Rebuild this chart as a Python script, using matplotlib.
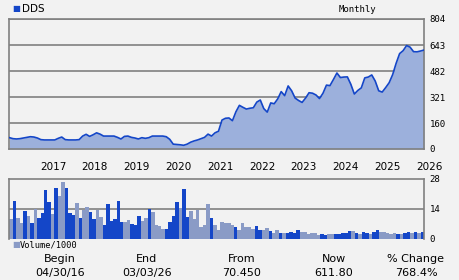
import matplotlib
matplotlib.use('Agg')
import matplotlib.pyplot as plt

# --- # data (monthly, Apr 2016 .. Mar 2026)
price = [70, 64, 62, 64, 68, 72, 76, 74, 68, 58, 56, 56, 56, 56, 66, 74, 58, 56, 56, 56,
         58, 80, 91, 78, 88, 100, 92, 80, 80, 80, 80, 72, 62, 78, 80, 72, 68, 62, 70, 66,
         70, 80, 80, 80, 80, 76, 60, 30, 28, 26, 23, 30, 42, 50, 56, 64, 72, 92, 80, 100,
         110, 179, 190, 192, 175, 230, 270, 258, 247, 252, 255, 290, 303, 250, 228, 285, 280, 310, 355, 330,
         390, 360, 315, 300, 288, 315, 348, 345, 334, 312, 345, 395, 392, 430, 470, 442, 445, 446, 400, 340,
         362, 378, 440, 445, 458, 420, 360, 352, 380, 410, 460, 530, 590, 608, 640, 630, 602, 601, 606, 612]

volume = [9.3, 17.7, 9.8, 7.6, 13.2, 10.7, 7.5, 14.2, 9.8, 12.3, 22.9, 17.4, 11.7, 23.8, 20.1, 26.6,
          23.8, 12.3, 11.2, 16.8, 9.8, 13.5, 14.9, 12.7, 9.3, 13.5, 10.3, 6.5, 16.3, 8.4, 9.3, 17.7,
          8.1, 8.1, 8.9, 7.0, 6.5, 10.7, 8.4, 9.8, 14.0, 12.6, 6.5, 6.1, 4.7, 4.7, 7.9, 10.7,
          17.3, 14.5, 23.3, 10.3, 13.1, 9.3, 13.5, 5.6, 6.5, 16.3, 9.8, 6.5, 4.2, 7.9, 7.5, 7.5,
          6.5, 5.6, 4.2, 7.5, 5.6, 5.6, 4.7, 6.1, 4.2, 4.2, 5.1, 3.7, 2.8, 4.2, 2.8, 2.8,
          2.8, 3.3, 2.8, 4.2, 3.3, 3.3, 2.3, 2.8, 2.8, 1.9, 2.3, 1.9, 2.3, 2.3, 2.3, 2.3,
          2.8, 2.8, 3.7, 3.7, 2.8, 2.3, 3.3, 2.8, 2.3, 3.3, 4.2, 3.3, 3.3, 2.8, 2.3, 2.8,
          2.3, 2.3, 2.8, 3.3, 2.8, 3.3, 2.8, 3.3]

# 1 = dark blue bar, 0 = grey bar
vol_up = [0, 1, 0, 0, 1, 0, 1, 0, 1, 1, 1, 1, 0, 1, 0, 0,
          1, 1, 1, 0, 1, 0, 0, 1, 1, 0, 0, 1, 1, 1, 1, 1,
          1, 0, 0, 1, 1, 1, 0, 0, 1, 0, 0, 0, 0, 1, 1, 1,
          1, 0, 1, 1, 0, 0, 0, 0, 0, 0, 1, 0, 0, 0, 0, 0,
          0, 1, 0, 0, 0, 0, 0, 1, 1, 0, 0, 1, 0, 0, 1, 0,
          1, 1, 1, 1, 0, 0, 0, 0, 0, 0, 1, 1, 0, 0, 1, 1,
          1, 1, 1, 0, 1, 0, 1, 1, 0, 1, 1, 0, 0, 0, 0, 0,
          1, 0, 1, 1, 0, 1, 0, 1]

years = ['2017', '2018', '2019', '2020', '2021', '2022', '2023', '2024', '2025', '2026']
price_ticks = [0, 160, 321, 482, 643, 804]
vol_ticks = [0, 14, 28]

bg = '#f2f2f2'
blue = '#1446c8'
fill = '#9cb0dc'
grey_bar = '#8a9bc6'
grid = '#808080'

fig = plt.figure(figsize=(4.6, 2.8), dpi=100, facecolor=bg)

x = list(range(len(price)))

# --- # price panel
ax = fig.add_axes([9.5 / 460, 1 - 149 / 280, 414.5 / 460, 130 / 280], facecolor=bg)
ax.fill_between(x, price, 0, color=fill, lw=0, zorder=2)
ax.plot(x, price, color=blue, lw=1.2, zorder=3)
ax.set_xlim(0, len(price) - 1)
ax.set_ylim(0, 804)
for t in price_ticks[1:]:
    ax.axhline(t, color=grid, lw=1.2, zorder=1)
ax.yaxis.tick_right()
ax.set_yticks(price_ticks)
ax.set_yticklabels([str(t) for t in price_ticks], family='DejaVu Sans Mono', fontsize=6.5)
ax.tick_params(axis='y', length=0, pad=4)
ax.set_xticks([])
for s in ax.spines.values():
    s.set_color(grid)
    s.set_linewidth(1.2)
for k, y in enumerate(years):
    ax.text(8.7 + 12 * k, -0.1, y, transform=ax.get_xaxis_transform(), ha='left', va='top',
            fontsize=7.5, family='DejaVu Sans')

# --- # volume panel
av = fig.add_axes([9.5 / 460, 1 - 239 / 280, 414.5 / 460, 60 / 280], facecolor=bg)
cols = [blue if u else grey_bar for u in vol_up]
av.bar(range(len(volume)), volume, width=1.0, color=cols, lw=0, zorder=2, antialiased=False)
av.set_xlim(-0.5, len(volume) - 0.5)
av.set_ylim(0, 28)
av.axhline(14, color=grid, lw=1.2, zorder=1)
av.yaxis.tick_right()
av.set_yticks(vol_ticks)
av.set_yticklabels([str(t) for t in vol_ticks], family='DejaVu Sans Mono', fontsize=6.5)
av.tick_params(axis='y', length=0, pad=4)
av.set_xticks([])
for s in av.spines.values():
    s.set_color(grid)
    s.set_linewidth(1.2)
av.spines['bottom'].set_visible(False)

# --- # legend-ish labels
fig.text(12 / 460, 1 - 9 / 280, '\u25a0', color=blue, fontsize=6, va='center', ha='left')
fig.text(22 / 460, 1 - 9 / 280, 'DDS', fontsize=7.5, va='center', ha='left', family='DejaVu Sans')
fig.text(357 / 460, 1 - 9 / 280, 'Monthly', fontsize=6.5, va='center', ha='center', family='DejaVu Sans Mono')
fig.text(12 / 460, 1 - 245 / 280, '\u25a0', color=grey_bar, fontsize=6, va='center', ha='left')
fig.text(20 / 460, 1 - 245 / 280, 'Volume/1000', fontsize=6.2, va='center', ha='left', family='DejaVu Sans Mono')

# --- # bottom stats
heads = ['Begin', 'End', 'From', 'Now', '% Change']
vals = ['04/30/16', '03/03/26', '70.450', '611.80', '768.4%']
xs = [60, 147, 242, 334, 416]
for h, v, xp in zip(heads, vals, xs):
    fig.text(xp / 460, 1 - 259 / 280, h, fontsize=8, ha='center', va='center', family='DejaVu Sans')
    fig.text(xp / 460, 1 - 273 / 280, v, fontsize=8, ha='center', va='center', family='DejaVu Sans')

fig.savefig('out.png', dpi=100, facecolor=bg)
